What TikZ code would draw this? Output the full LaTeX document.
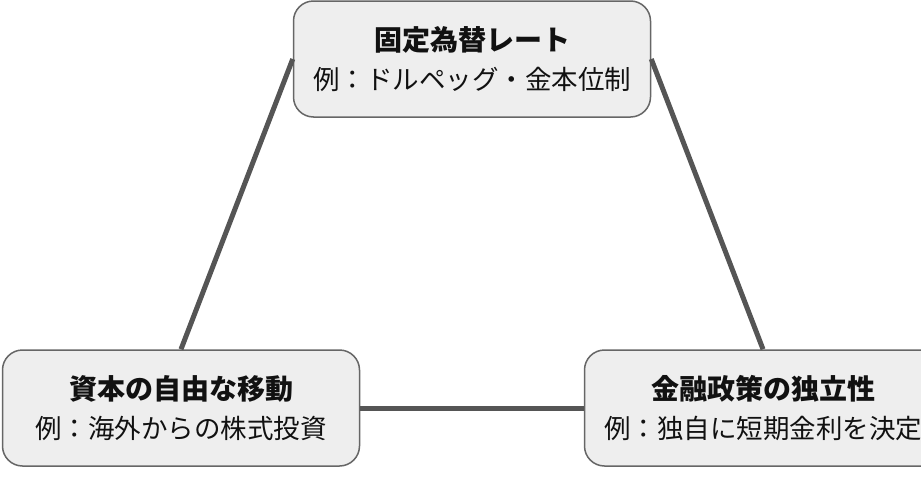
\documentclass[tikz,border=0pt]{standalone}
\usepackage{fontspec}
\setmainfont{Noto Sans CJK JP}
\definecolor{boxfill}{HTML}{EEEEEE}
\definecolor{boxborder}{HTML}{666666}
\definecolor{linkcol}{HTML}{555555}
\definecolor{txt}{HTML}{111111}
\newcommand{\ttl}[1]{{\fontsize{28}{39}\selectfont\bfseries #1}}
\begin{document}
\begin{tikzpicture}[x=1pt,y=-1pt,
  box/.style={draw=boxborder, line width=1.5pt, fill=boxfill, rounded corners=20pt,
    minimum width=357pt, minimum height=116pt, align=center, inner sep=0pt,
    text=txt, font={\fontsize{26.5}{39}\selectfont}},
  link/.style={draw=linkcol, line width=5pt}]
\useasboundingbox (0,0) rectangle (921,493);
\clip (0,0) rectangle (921,493);
\node[box] (fx) at (472,59) {\ttl{固定為替レート}\\例：ドルペッグ・金本位制};
\node[box] (cap) at (181,408) {\ttl{資本の自由な移動}\\例：海外からの株式投資};
\node[box] (mp) at (763,408) {\ttl{金融政策の独立性}\\例：独自に短期金利を決定};
\draw[link] (cap.north) -- (fx.west);
\draw[link] (fx.east) -- (mp.north);
\draw[link] (cap.east) -- (mp.west);
\end{tikzpicture}
\end{document}
